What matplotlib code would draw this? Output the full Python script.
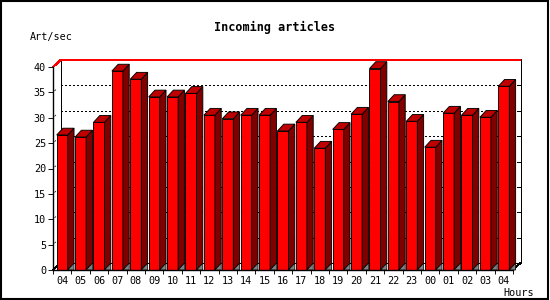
import matplotlib
matplotlib.use("Agg")
import matplotlib.pyplot as plt
from matplotlib.patches import Polygon, Rectangle

hours = ["04", "05", "06", "07", "08", "09", "10", "11", "12", "13", "14", "15", "16",
         "17", "18", "19", "20", "21", "22", "23", "00", "01", "02", "03", "04"]
rates = [26.6, 26.2, 29.1, 39.2, 37.6, 34.1, 34.1, 34.8, 30.5, 29.8, 30.5, 30.5, 27.4,
         29.1, 24.0, 27.7, 30.7, 39.7, 33.2, 29.3, 24.2, 30.9, 30.5, 30.1, 36.2]
yticks = [0, 5, 10, 15, 20, 25, 30, 35, 40]

title = "Incoming articles"
ylabel = "Art/sec"
xlabel = "Hours"

font = "DejaVu Sans Mono"
lw = 0.65   # about one pixel (antialiased)
lwp = 0.6   # one pixel, non antialiased

fig = plt.figure(figsize=(5.5, 3), dpi=100)
fig.patch.set_facecolor("white")
fig.patches.append(Rectangle((0.002, 0.003), 0.995, 0.993, transform=fig.transFigure,
                             fill=False, edgecolor="black", linewidth=1.5))

ax = fig.add_axes([53 / 550, 30 / 300, 460 / 550, 203 / 300])
ax.set_facecolor("none")
n = len(rates)
ax.set_xlim(-0.5, n - 0.5)
ax.set_ylim(0, 40)

# pixel -> data unit helpers for the fake 3d depth
px_x = n / 460.0
px_y = 40 / 203.0
dx, dy = 7.5 * px_x, 7 * px_y
bdx, bdy = 6.3 * px_x, 6.8 * px_y
x0, x1 = -0.5, n - 0.5


def line(xv, yv, **kw):
    opts = dict(color="black", linewidth=lwp, zorder=0.6, clip_on=False,
                antialiased=False, solid_capstyle="butt")
    opts.update(kw)
    ax.plot(xv, yv, **opts)


# back wall
ax.add_patch(Rectangle((x0 + dx, dy), n, 40, facecolor="white", edgecolor="none",
                       zorder=0, clip_on=False))
line([x0 + dx, x0 + dx], [dy, 40 + dy])
line([x1 + dx, x1 + dx], [dy, 40 + dy])
line([x0 + dx, x1 + dx], [dy, dy])
line([x0 + dx, x1 + dx], [40 + dy + 1 * px_y] * 2)
line([x0, x0 + dx, x1 + dx], [40, 40 + dy, 40 + dy], color="red", linewidth=0.9, zorder=0.7)
line([x0, x0 + dx], [0, dy])
line([x1, x1 + dx], [0, dy])

for v in yticks[1:-1]:
    line([x0 + dx, x1 + dx], [v + dy, v + dy], linestyle=(0, (2, 3)), zorder=0.5)
for v in yticks[:-1]:
    line([x1 + dx - 3 * px_x, x1 + dx], [v + dy, v + dy], zorder=0.5)
    line([x0 + 0.2 * dx, x0 + 0.4 * dx], [v + 0.2 * dy, v + 0.4 * dy], zorder=0.5,
         antialiased=True, linewidth=0.5)

# bars
xs = list(range(n))
bw = 0.6
ax.bar(xs, rates, width=bw, color="#ff0000", edgecolor="black", linewidth=lw, zorder=3)
for x, v in zip(xs, rates):
    xl, xr = x - bw / 2, x + bw / 2
    ax.add_patch(Polygon([(xr, 0), (xr, v), (xr + bdx, v + bdy), (xr + bdx, bdy)],
                         closed=True, facecolor="#800000", edgecolor="black",
                         linewidth=lw, zorder=3, clip_on=False))
    ax.add_patch(Polygon([(xl, v), (xr, v), (xr + bdx, v + bdy), (xl + bdx, v + bdy)],
                         closed=True, facecolor="#c00000", edgecolor="black",
                         linewidth=lw, zorder=3, clip_on=False))
    ax.add_patch(Polygon([(xr, 0), (xr + bdx, bdy), (xr + bdx, 0)],
                         closed=True, facecolor="#808080", edgecolor="black",
                         linewidth=0.5, zorder=3, clip_on=False))

for s in ["top", "right"]:
    ax.spines[s].set_visible(False)
for s in ["left", "bottom"]:
    ax.spines[s].set_linewidth(1)
    ax.spines[s].set_zorder(4)

ax.set_yticks(yticks)
ax.set_yticklabels([str(v) for v in yticks], fontsize=7.3, family=font)
ax.tick_params(axis="y", length=3.5, width=lw, pad=1.5)
ax.set_xticks(xs)
ax.set_xticklabels(hours, fontsize=7.3, family=font)
ax.set_xticks([x - 0.5 for x in range(n + 1)], minor=True)
ax.tick_params(axis="x", which="major", length=0, pad=4)
ax.tick_params(axis="x", which="minor", length=3, width=lw)

fig.text(0.5, 1 - 27 / 300, title, ha="center", va="center", fontsize=8.5,
         fontweight="bold", family=font)
fig.text(30 / 550, 1 - 37 / 300, ylabel, ha="left", va="center", fontsize=7.3, family=font)
fig.text(534 / 550, 1 - 293 / 300, xlabel, ha="right", va="center", fontsize=7.3, family=font)

fig.savefig("out.png", dpi=100)
